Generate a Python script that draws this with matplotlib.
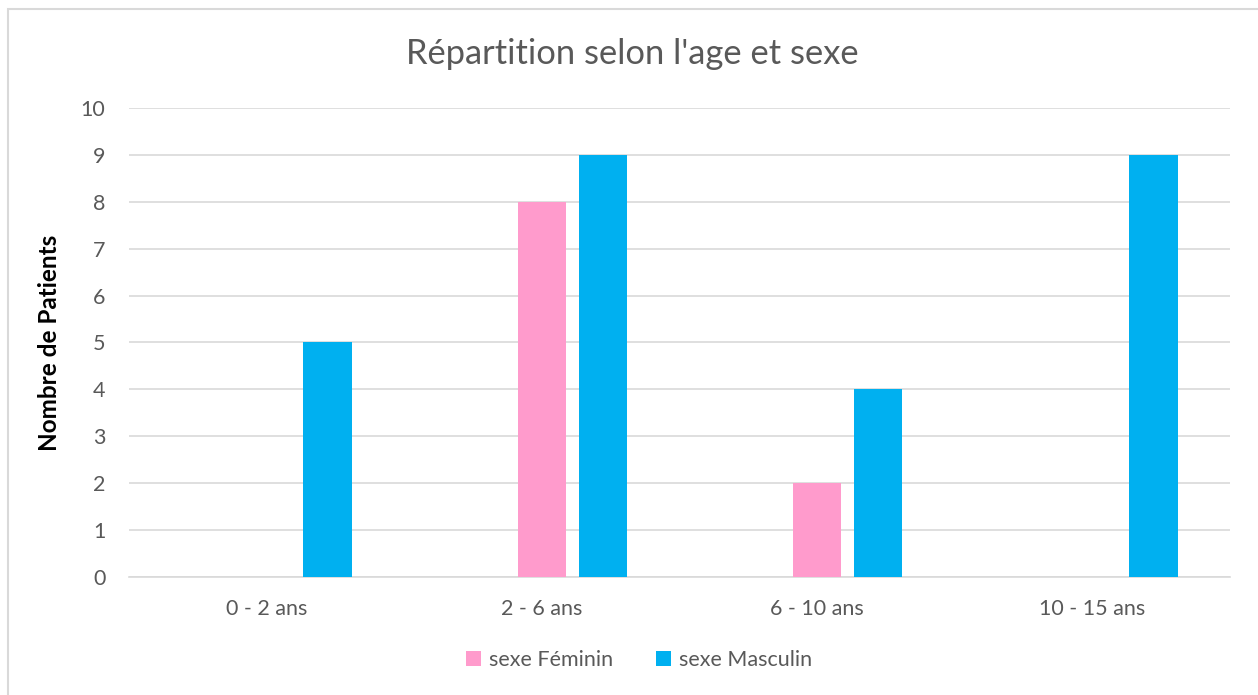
import numpy as np
import matplotlib
matplotlib.use('Agg')
import matplotlib.pyplot as plt
from matplotlib.patches import Rectangle

# data
categories = ['0 - 2 ans', '2 - 6 ans', '6 - 10 ans', '10 - 15 ans']
feminin = [0, 8, 2, 0]
masculin = [5, 9, 4, 9]
series_labels = ['sexe Féminin', 'sexe Masculin']
yticks = list(range(0, 11))

PINK = '#FF9BCC'
BLUE = '#00B0F0'
TEXT = '#595959'
GRID = '#D9D9D9'

plt.rcParams['font.family'] = ['Lato', 'DejaVu Sans']

fig = plt.figure(figsize=(12.58, 6.95), dpi=100)
ax = fig.add_axes([0.1025, 0.1702, 0.8752, 0.674])

x = np.arange(len(categories))
width = 0.176
ax.bar(x, feminin, width, color=PINK, label=series_labels[0], zorder=3)
ax.bar(x + 0.222, masculin, width, color=BLUE, label=series_labels[1], zorder=3)

ax.set_xlim(-0.5, len(categories) - 0.5)
ax.set_ylim(0, 10)
ax.set_yticks(yticks)
ax.set_xticks(x)
ax.set_xticklabels(categories)
ax.tick_params(axis='both', length=0, labelsize=15.5, labelcolor=TEXT)
ax.tick_params(axis='x', pad=16)
ax.tick_params(axis='y', pad=17)
ax.yaxis.grid(True, color=GRID, linewidth=1.2, zorder=0)
for side in ('top', 'right', 'left'):
    ax.spines[side].set_visible(False)
ax.spines['bottom'].set_color(GRID)
ax.spines['bottom'].set_linewidth(1.2)

ax.set_ylabel('Nombre de Patients', fontsize=17.5, fontweight='bold', color='black')
ax.yaxis.set_label_coords(-0.062, 0.5)

fig.text(0.503, 0.922, "Répartition selon l'age et sexe", ha='center', va='center',
         fontsize=24.8, color=TEXT)

fig.legend(loc='center', bbox_to_anchor=(0.508, 0.05), ncol=2, frameon=False,
           fontsize=15.5, labelcolor=TEXT, handlelength=0.7, handleheight=0.7,
           handletextpad=0.35, columnspacing=2.0)

# light frame around the chart area
fig.patches.append(Rectangle((8 / 1258, -0.1), 1.2, 1 - 9 / 695 + 0.1,
                             transform=fig.transFigure, fill=False,
                             edgecolor=GRID, linewidth=1.5))

fig.savefig('out.png', dpi=100)
